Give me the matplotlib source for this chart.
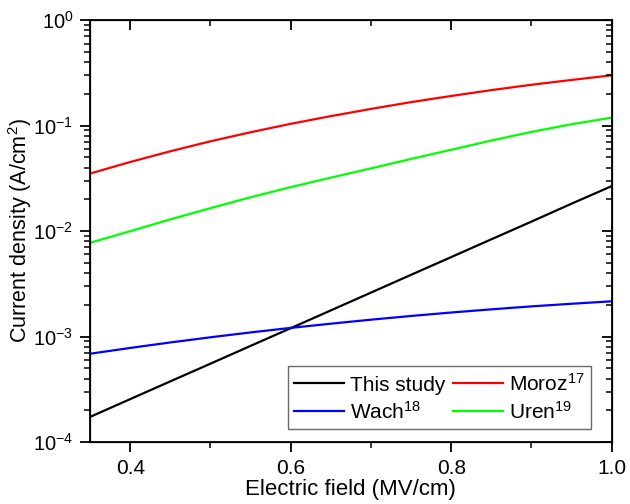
import numpy as np
import matplotlib
matplotlib.use('Agg')
import matplotlib.pyplot as plt
from matplotlib.ticker import LogLocator, MultipleLocator, NullFormatter

plt.rcParams['font.family'] = ['Liberation Sans', 'DejaVu Sans']
plt.rcParams['mathtext.fontset'] = 'custom'
plt.rcParams['mathtext.rm'] = 'Liberation Sans'
plt.rcParams['mathtext.it'] = 'Liberation Sans:italic'
plt.rcParams['mathtext.bf'] = 'Liberation Sans:bold'

# campo electrico (MV/cm)
campo = [0.35, 0.40, 0.45, 0.50, 0.55, 0.60, 0.65, 0.70, 0.75, 0.80, 0.85, 0.90, 0.95, 1.00]

# densidad de corriente (A/cm^2)
este_estudio = [1.73e-4, 2.55e-4, 3.76e-4, 5.53e-4, 8.16e-4, 1.20e-3, 1.77e-3,
                2.61e-3, 3.85e-3, 5.67e-3, 8.36e-3, 1.23e-2, 1.82e-2, 2.67e-2]
moroz = [0.0351, 0.0452, 0.0571, 0.0710, 0.0865, 0.104, 0.123,
         0.144, 0.167, 0.191, 0.217, 0.244, 0.271, 0.300]
wach = [6.87e-4, 7.80e-4, 8.79e-4, 9.84e-4, 1.094e-3, 1.208e-3, 1.324e-3,
        1.445e-3, 1.567e-3, 1.690e-3, 1.811e-3, 1.932e-3, 2.046e-3, 2.158e-3]
uren = [0.00774, 0.00997, 0.0129, 0.0165, 0.0209, 0.0261, 0.0321,
        0.0393, 0.0483, 0.0590, 0.0722, 0.0872, 0.103, 0.119]

etiquetas = ['This study', 'Wach$^{18}$', 'Moroz$^{17}$', 'Uren$^{19}$']
colores = ['black', '#0000FF', '#FF0000', '#00FF00']

fig = plt.figure(figsize=(6.3, 5.04), dpi=100)
ax = fig.add_axes([0.143, 0.123, 0.828, 0.837])

for serie, etiqueta, color in zip([este_estudio, wach, moroz, uren], etiquetas, colores):
    ax.plot(campo, serie, color=color, lw=1.6, label=etiqueta)

ax.set_yscale('log')
ax.set_xlim(0.35, 1.0)
ax.set_ylim(1e-4, 1)
ax.set_xticks([0.4, 0.6, 0.8, 1.0])
ax.set_xticklabels(['0.4', '0.6', '0.8', '1.0'])
ax.xaxis.set_minor_locator(MultipleLocator(0.1))
ax.yaxis.set_major_locator(LogLocator(base=10, numticks=10))
ax.yaxis.set_minor_locator(LogLocator(base=10, subs=np.arange(2, 10), numticks=20))
ax.yaxis.set_minor_formatter(NullFormatter())

for lado in ax.spines.values():
    lado.set_linewidth(1.3)

ax.tick_params(which='major', direction='out', length=7, width=1.3)
ax.tick_params(axis='y', which='major', pad=5, labelsize=14.5)
ax.tick_params(axis='x', which='major', pad=5, labelsize=15)
ax.tick_params(which='minor', direction='out', length=4, width=1.1)

# ejes espejo con marcas hacia adentro
ax_sup = ax.twiny()
ax_sup.set_xlim(ax.get_xlim())
ax_sup.set_xticks([0.4, 0.6, 0.8, 1.0])
ax_sup.xaxis.set_minor_locator(MultipleLocator(0.1))
ax_sup.tick_params(which='major', direction='in', length=7, width=1.3, labeltop=False)
ax_sup.tick_params(which='minor', direction='in', length=4, width=1.1)

ax_der = ax.twinx()
ax_der.set_yscale('log')
ax_der.set_ylim(ax.get_ylim())
ax_der.yaxis.set_major_locator(LogLocator(base=10, numticks=10))
ax_der.yaxis.set_minor_locator(LogLocator(base=10, subs=np.arange(2, 10), numticks=20))
ax_der.tick_params(which='major', direction='in', length=7, width=1.3, labelright=False)
ax_der.tick_params(which='minor', direction='in', length=4, width=1.1, labelright=False)

ax.set_xlabel('Electric field (MV/cm)', fontsize=16, labelpad=1)
ax.set_ylabel('Current density (A/cm$^2$)', fontsize=15.5)
ax.yaxis.set_label_coords(-0.108, 0.5)

leg = ax.legend(loc='lower right', ncol=2, fontsize=15, frameon=True, fancybox=False,
                edgecolor='#444444', handlelength=2.4, handletextpad=0.3,
                columnspacing=0.35, borderpad=0.3, labelspacing=0.3,
                borderaxespad=0, bbox_to_anchor=(0.96, 0.031))
leg.get_frame().set_linewidth(1.0)

fig.savefig('out.png', dpi=100)
